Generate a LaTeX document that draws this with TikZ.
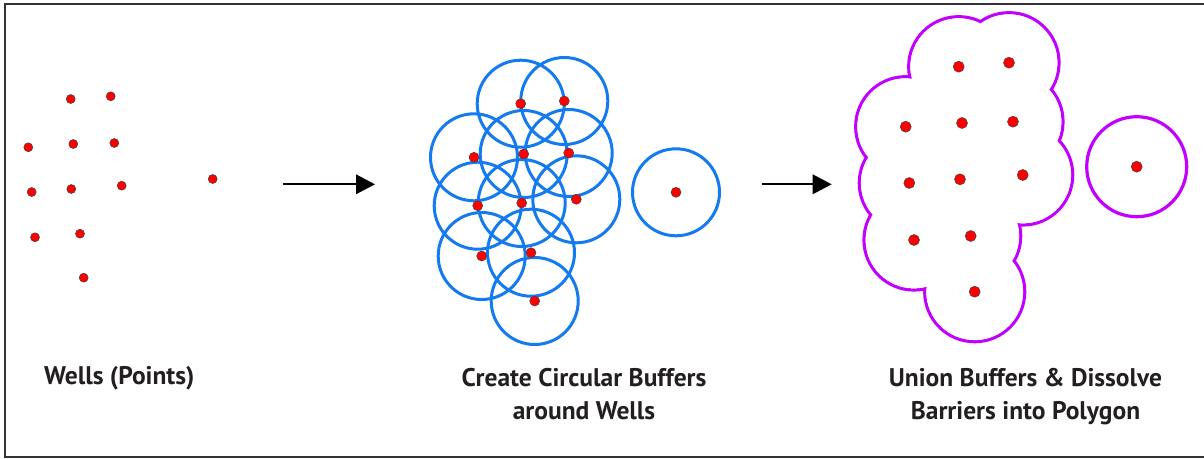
\documentclass[tikz,border=0pt]{standalone}
\usepackage{fontspec}
\newfontfamily\labelfont{PT Sans}
\usetikzlibrary{arrows.meta}

\definecolor{wellred}{RGB}{255,0,0}
\definecolor{buffblue}{RGB}{20,122,240}
\definecolor{unionpurple}{RGB}{195,0,255}
\definecolor{framegray}{RGB}{51,51,51}
\definecolor{inkgray}{RGB}{35,31,32}

\tikzset{
  well/.style={circle, draw=black!75, line width=0.5pt, fill=wellred, inner sep=0pt, minimum size=9pt},
  buffer/.style={circle, draw=buffblue, line width=3pt, inner sep=0pt, minimum size=87pt},
  union/.style={circle, draw=unionpurple, line width=3.2pt, inner sep=0pt, minimum size=100pt},
  hole/.style={circle, fill=white, inner sep=0pt, minimum size=96.8pt},
  flow/.style={-{Triangle[length=19pt,width=19.5pt]}, line width=1.8pt, black},
  caption/.style={inner sep=0pt, text=inkgray, align=center,
    font={\labelfont\bfseries\fontsize{25.5}{32.6}\selectfont}}
}

\begin{document}
\begin{tikzpicture}[x=1pt,y=-1pt]
\useasboundingbox (0,0) rectangle (1204,458);

\draw[framegray, line width=2pt] (1204,3.7) -- (5,3.7) -- (5,456.7) -- (1204,456.7);

%%%%%% Wells %%%%%%%

\node (p1) at (70.7,99) [well] {};
\node (p2) at (110.7,96.3) [well] {};
\node (p3) at (28.3,147.3) [well] {};
\node (p4) at (73.3,144) [well] {};
\node (p5) at (114.3,143) [well] {};
\node (p6) at (31.7,192) [well] {};
\node (p7) at (71.3,189) [well] {};
\node (p8) at (121.7,185.7) [well] {};
\node (p9) at (35,237.3) [well] {};
\node (p10) at (80,233.7) [well] {};
\node (p11) at (83.7,277.7) [well] {};
\node (p12) at (212.7,179) [well] {};

\node (cap1) at (44,384.3) [caption, anchor=base west] {Wells (Points)};

%%%%%% Buffers %%%%%%%

\node (b1) at (520.7,103.7) [buffer] {};
\node (b2) at (564.3,101) [buffer] {};
\node (b3) at (474,157.3) [buffer] {};
\node (b4) at (523.7,154) [buffer] {};
\node (b5) at (568.7,153) [buffer] {};
\node (b6) at (477.7,205.7) [buffer] {};
\node (b7) at (521.7,203) [buffer] {};
\node (b8) at (576.3,199.3) [buffer] {};
\node (b9) at (481.7,256) [buffer] {};
\node (b10) at (531,252.7) [buffer] {};
\node (b11) at (534.7,301) [buffer] {};
\node (b12) at (676,192.3) [buffer] {};

\foreach \i in {1,...,12}
  \node (q\i) at (b\i) [well, minimum size=10pt] {};

\node (cap2) at (584,419.3) [caption, anchor=base] {Create Circular Buffers\\around Wells};

%%%%%% Union %%%%%%%

\node (u1) at (958.7,66.7) [union] {};
\node (u2) at (1009,62.7) [union] {};
\node (u3) at (905.7,126.7) [union] {};
\node (u4) at (962,123) [union] {};
\node (u5) at (1013,121.7) [union] {};
\node (u6) at (909.3,183) [union] {};
\node (u7) at (960,179.3) [union] {};
\node (u8) at (1022.7,175) [union] {};
\node (u9) at (914,240) [union] {};
\node (u10) at (970.7,236) [union] {};
\node (u11) at (974.7,291.7) [union] {};
\node (u12) at (1136.7,166.7) [union] {};

% dissolve inner barriers
\foreach \i in {1,...,11}
  \node (h\i) at (u\i) [hole] {};

\foreach \i in {1,...,12}
  \node (d\i) at (u\i) [well, minimum size=11pt] {};

\node (cap3) at (1025.5,419.3) [caption, anchor=base] {Union Buffers \& Dissolve\\Barriers into Polygon};

%%%%% Steps %%%%%
\coordinate (s1) at (282.7,184.3);
\coordinate (t1) at (375,184.3);
\coordinate (s2) at (761.7,184.3);
\coordinate (t2) at (831.7,184.3);

\draw[flow] (s1) -- (t1);
\draw[flow] (s2) -- (t2);

\end{tikzpicture}
\end{document}
